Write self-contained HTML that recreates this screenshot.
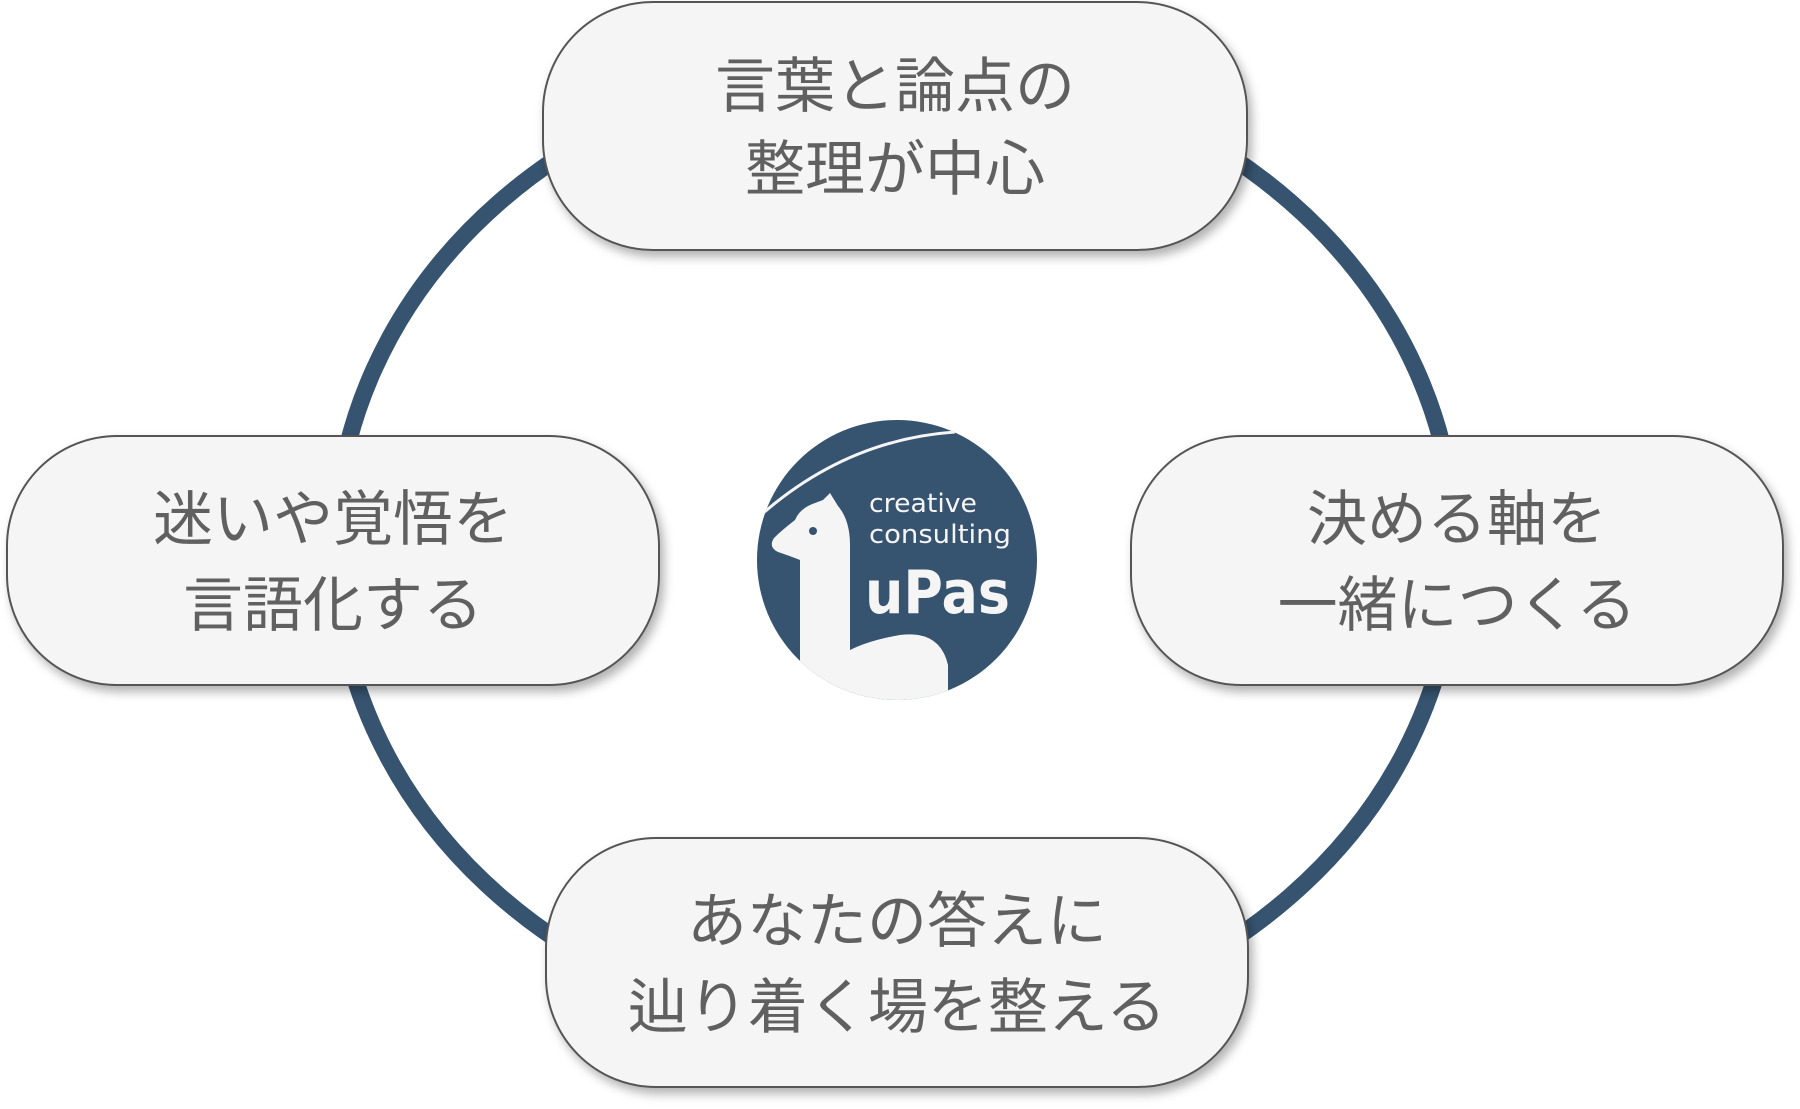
<!DOCTYPE html>
<html><head><meta charset="utf-8"><style>
html,body{margin:0;padding:0;background:#fff;}
body{width:1800px;height:1109px;overflow:hidden;}
svg{display:block;}
.t{font-family:"Liberation Sans","Noto Sans CJK JP",sans-serif;font-size:60px;fill:#606060;text-anchor:middle;}
</style></head><body>
<svg width="1800" height="1109" viewBox="0 0 1800 1109" xmlns="http://www.w3.org/2000/svg">
<defs>
<filter id="sh" x="-10%" y="-10%" width="125%" height="130%">
<feDropShadow dx="4" dy="6" stdDeviation="5" flood-color="#000" flood-opacity="0.3"/>
</filter>
<clipPath id="lc"><circle cx="897" cy="560" r="140"/></clipPath>
</defs>
<ellipse cx="895" cy="549" rx="560" ry="490" fill="none" stroke="#36536f" stroke-width="17"/>
<g filter="url(#sh)" fill="#f5f5f5" stroke="#555" stroke-width="2">
<rect x="543" y="2" width="704" height="248" rx="110"/>
<rect x="7" y="436" width="652" height="249" rx="110"/>
<rect x="1131" y="436" width="652" height="249" rx="110"/>
<rect x="546" y="838" width="702" height="249" rx="110"/>
</g>
<text class="t" x="895" y="107">言葉と論点の</text>
<text class="t" x="895" y="190">整理が中心</text>
<text class="t" x="333" y="540">迷いや覚悟を</text>
<text class="t" x="333" y="626">言語化する</text>
<text class="t" x="1457" y="540">決める軸を</text>
<text class="t" x="1457" y="626">一緒につくる</text>
<text class="t" x="897" y="942">あなたの答えに</text>
<text class="t" x="897" y="1028">辿り着く場を整える</text>
<!-- logo -->
<circle cx="897" cy="560" r="140" fill="#36536f"/>
<g clip-path="url(#lc)">
<path d="M750 525 Q840 440 955 432" fill="none" stroke="#f5f5f5" stroke-width="3"/>
<path d="M800 730 L800 560 Q790 556 778 552 Q768 547 774 538 Q782 530 795 520 Q800 508 815 503 L823 500 L830 493 L838 506 Q850 520 850 545 L850 650 Q870 640 900 635 Q940 630 948 665 L948 730 Z" fill="#f5f5f5"/>
</g>
<circle cx="813" cy="531" r="4" fill="#36536f"/>
<text x="869" y="512" font-family="'DejaVu Sans','Liberation Sans',sans-serif" font-size="26" fill="#f5f5f5" textLength="108" lengthAdjust="spacingAndGlyphs">creative</text>
<text x="869" y="543" font-family="'DejaVu Sans','Liberation Sans',sans-serif" font-size="26" fill="#f5f5f5" textLength="142" lengthAdjust="spacingAndGlyphs">consulting</text>
<text x="865" y="613" font-family="'DejaVu Sans','Liberation Sans',sans-serif" font-weight="bold" font-size="60" fill="#f5f5f5" textLength="145" lengthAdjust="spacingAndGlyphs">uPas</text>
</svg>
</body></html>
